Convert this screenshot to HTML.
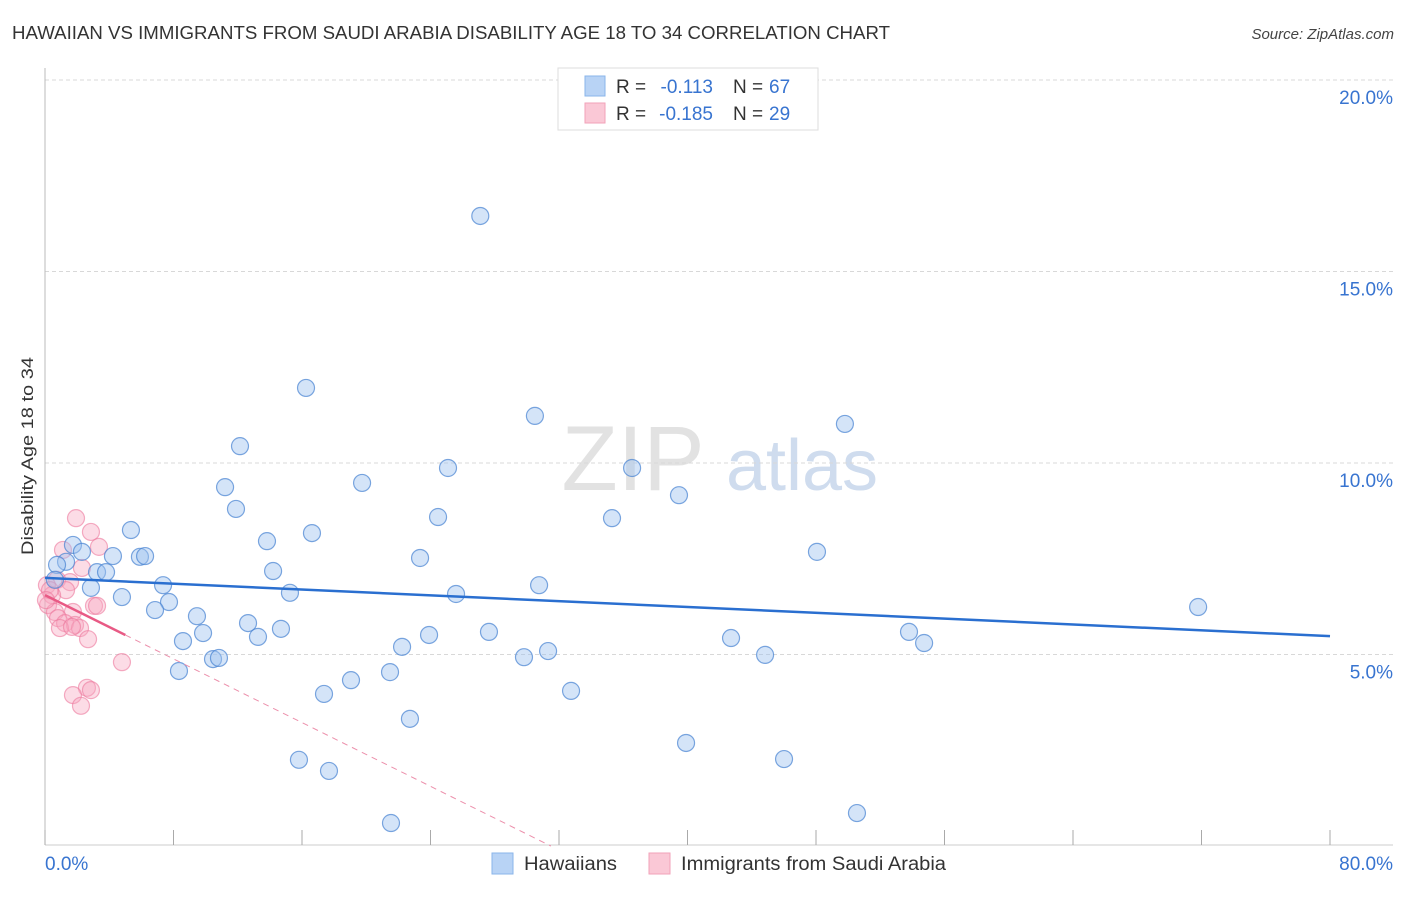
<!DOCTYPE html>
<html><head><meta charset="utf-8"><style>
body{margin:0;background:#fff;font-family:"Liberation Sans",sans-serif;}
svg text{font-family:"Liberation Sans",sans-serif;}
</style></head><body>
<svg id="chart" width="1406" height="892" viewBox="0 0 1406 892" xmlns="http://www.w3.org/2000/svg">
<text x="12" y="39" font-size="18" fill="#333" textLength="878" lengthAdjust="spacingAndGlyphs">HAWAIIAN VS IMMIGRANTS FROM SAUDI ARABIA DISABILITY AGE 18 TO 34 CORRELATION CHART</text>
<text x="1394" y="39" font-size="15" fill="#444" text-anchor="end" font-style="italic">Source: ZipAtlas.com</text>
<g>
<text x="633" y="490" font-size="92" fill="#e2e2e2" font-family="Liberation Serif" text-anchor="middle">ZIP</text>
<text x="802" y="490" font-size="72" fill="#cfdcee" text-anchor="middle">atlas</text>
</g>
<g id="grid"></g>
<g id="axes"></g>
<g id="marks"></g>
<text transform="translate(33,456) rotate(-90)" font-size="17" fill="#333" text-anchor="middle" textLength="198" lengthAdjust="spacingAndGlyphs">Disability Age 18 to 34</text>
<g>
<rect x="558" y="68" width="260" height="62" fill="#fff" stroke="#ddd"/>
<rect x="585" y="76" width="20" height="20" fill="#b8d3f5" stroke="#8ab4ea"/>
<text x="616" y="93" font-size="19" fill="#333">R =</text>
<text x="713" y="93" font-size="19" fill="#3874d0" text-anchor="end">-0.113</text>
<text x="733" y="93" font-size="19" fill="#333">N =</text>
<text x="769" y="93" font-size="19" fill="#3874d0">67</text>
<rect x="585" y="103" width="20" height="20" fill="#fac8d6" stroke="#f2a2b8"/>
<text x="616" y="120" font-size="19" fill="#333">R =</text>
<text x="713" y="120" font-size="19" fill="#3874d0" text-anchor="end">-0.185</text>
<text x="733" y="120" font-size="19" fill="#333">N =</text>
<text x="769" y="120" font-size="19" fill="#3874d0">29</text>
</g>
<g>
<rect x="492" y="853" width="21" height="21" fill="#b8d3f5" stroke="#8ab4ea"/>
<text x="524" y="870" font-size="19" fill="#333" textLength="93" lengthAdjust="spacingAndGlyphs">Hawaiians</text>
<rect x="649" y="853" width="21" height="21" fill="#fac8d6" stroke="#f2a2b8"/>
<text x="681" y="870" font-size="19" fill="#333" textLength="265" lengthAdjust="spacingAndGlyphs">Immigrants from Saudi Arabia</text>
</g>
</svg>
<script>
const blueX=[27.1,16.25,30.5,49.8,12.14,25.09,36.55,19.74,11.21,39.47,11.89,24.47,35.3,5.35,16.62,13.82,1.74,2.3,4.23,5.91,6.23,23.35,48.06,1.31,0.75,14.2,3.24,3.8,0.62,7.35,30.76,2.86,15.25,25.59,4.79,7.72,6.85,71.79,9.46,12.64,14.69,9.84,27.64,53.79,23.91,13.26,42.71,8.59,54.73,22.23,31.32,10.46,10.83,29.82,44.83,8.34,21.48,19.05,32.75,17.37,22.72,39.91,15.81,46.01,17.68,50.55,21.54];
const blueY=[16.45,11.96,11.23,11.02,10.44,9.87,9.87,9.48,9.37,9.16,8.8,8.59,8.56,8.25,8.17,7.96,7.86,7.68,7.57,7.55,7.57,7.52,7.68,7.42,7.34,7.18,7.15,7.15,6.95,6.81,6.81,6.74,6.61,6.58,6.5,6.37,6.16,6.24,6.0,5.82,5.67,5.56,5.59,5.59,5.51,5.46,5.43,5.35,5.3,5.2,5.09,4.88,4.91,4.93,4.99,4.57,4.54,4.33,4.05,3.97,3.32,2.69,2.25,2.27,1.96,0.86,0.6];
const pinkX=[1.93,2.86,3.36,1.12,2.3,0.75,1.56,0.12,1.31,0.44,0.19,3.05,3.24,0.62,1.74,0.81,1.25,1.87,0.93,2.18,1.68,2.68,4.79,2.61,1.74,2.86,2.24,0.31,0.06];
const pinkY=[8.56,8.2,7.81,7.73,7.26,6.95,6.89,6.81,6.68,6.55,6.29,6.27,6.27,6.11,6.11,5.95,5.82,5.77,5.69,5.69,5.72,5.4,4.8,4.13,3.94,4.07,3.66,6.68,6.42];
const blueTrend=[7.0,5.48];      // y at x=0 and x=80
const pinkTrend=[6.55,-0.208];   // intercept, slope
const yTicks=[5,10,15,20];
const yTickLabels=["5.0%","10.0%","15.0%","20.0%"];
const xTicks=[0,8,16,24,32,40,48,56,64,72,80];

const NS="http://www.w3.org/2000/svg";
const X=v=>45+v/80*1285;
const Y=v=>846-v*38.3;
function mk(p,t,a){const e=document.createElementNS(NS,t);for(const k in a)e.setAttribute(k,a[k]);p.appendChild(e);return e;}
const grid=document.getElementById('grid'),axes=document.getElementById('axes'),marks=document.getElementById('marks');
yTicks.forEach((t,i)=>{
 const l=mk(grid,'line',{x1:45,x2:1393,y1:Y(t),y2:Y(t),stroke:'#d8d8d8','stroke-dasharray':'4,3'});
 
 
 const tx=mk(axes,'text',{x:1393,y:Y(t)+24,'font-size':19,fill:'#3874d0','text-anchor':'end'});
 tx.textContent=yTickLabels[i];
 
 
});
const ya=mk(axes,'line',{x1:45,x2:45,y1:68,y2:845,stroke:'#bbb'});


const xa=mk(axes,'line',{x1:45,x2:1393,y1:845,y2:845,stroke:'#ccc'});


xTicks.forEach(t=>{
 const l=mk(axes,'line',{x1:X(t),x2:X(t),y1:830,y2:845,stroke:'#aaa'});
 
 
});
const xl0=mk(axes,'text',{x:45,y:870,'font-size':19,fill:'#3874d0'});xl0.textContent=xTicks[0].toFixed(1)+'%';


const xl1=mk(axes,'text',{x:1393,y:870,'font-size':19,fill:'#3874d0','text-anchor':'end'});xl1.textContent=xTicks[xTicks.length-1].toFixed(1)+'%';



pinkX.forEach((x,i)=>{
 const c=mk(marks,'circle',{cx:X(x),cy:Y(pinkY[i]),r:8.5,fill:'rgba(247,168,192,0.4)',stroke:'rgba(236,120,156,0.6)','stroke-width':1.2});
 
 
});
blueX.forEach((x,i)=>{
 const c=mk(marks,'circle',{cx:X(x),cy:Y(blueY[i]),r:8.5,fill:'rgba(160,196,240,0.45)',stroke:'rgba(70,130,210,0.7)','stroke-width':1.2});
 
 
});
const bt=mk(marks,'line',{x1:X(0),y1:Y(blueTrend[0]),x2:X(80),y2:Y(blueTrend[1]),stroke:'#2a6fd0','stroke-width':2.5});


const xs=5,xe=-pinkTrend[0]/pinkTrend[1];
const pd=mk(marks,'line',{x1:X(xs),y1:Y(pinkTrend[0]+pinkTrend[1]*xs),x2:X(xe),y2:Y(pinkTrend[0]+pinkTrend[1]*xe),stroke:'#ec8fab','stroke-width':1,'stroke-dasharray':'6,5'});


const ps=mk(marks,'line',{x1:X(0),y1:Y(pinkTrend[0]),x2:X(xs),y2:Y(pinkTrend[0]+pinkTrend[1]*xs),stroke:'#e85a85','stroke-width':2.5});


</script>
</body></html>
